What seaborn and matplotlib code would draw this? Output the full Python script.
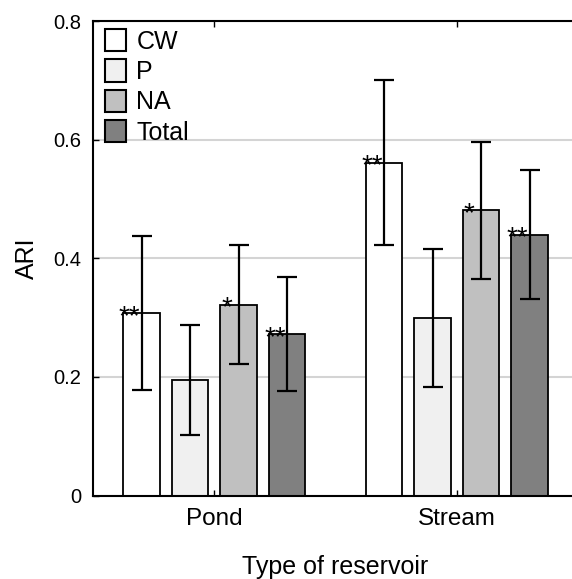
import matplotlib
matplotlib.use("Agg")
import matplotlib.pyplot as plt
from matplotlib.patches import Patch
import pandas as pd
import seaborn as sns

# Values
reservoirs = ["Pond", "Stream"]
groups = ["CW", "P", "NA", "Total"]
ari_pond = [0.307, 0.195, 0.322, 0.272]
ari_stream = [0.561, 0.300, 0.481, 0.440]
lower_pond = [0.178, 0.102, 0.222, 0.177]
upper_pond = [0.437, 0.287, 0.423, 0.368]
lower_stream = [0.422, 0.183, 0.365, 0.332]
upper_stream = [0.700, 0.416, 0.596, 0.548]
stars_pond = ["**", "", "*", "**"]
stars_stream = ["**", "", "*", "**"]
yticks = [0, 0.2, 0.4, 0.6, 0.8]
ytick_labels = ["0", "0.2", "0.4", "0.6", "0.8"]
colors = ["#ffffff", "#f0f0f0", "#c0c0c0", "#808080"]

rows = []
for res, vals, lo, up, st in [("Pond", ari_pond, lower_pond, upper_pond, stars_pond),
                              ("Stream", ari_stream, lower_stream, upper_stream, stars_stream)]:
    for g, v, l, u, s in zip(groups, vals, lo, up, st):
        rows.append({"reservoir": res, "group": g, "ari": v, "lo": l, "up": u, "star": s})
df = pd.DataFrame(rows)

sns.set_style("white")
plt.rcParams["font.family"] = ["Liberation Sans", "DejaVu Sans"]
plt.rcParams["text.color"] = "black"
plt.rcParams["axes.labelcolor"] = "black"
plt.rcParams["xtick.color"] = "black"
plt.rcParams["ytick.color"] = "black"

fig = plt.figure(figsize=(5.72, 5.79), dpi=100)
ax = fig.add_axes([0.1626, 0.1442, 0.848, 0.8195])

palette = dict(zip(groups, colors))
sns.barplot(data=df, x="reservoir", y="ari", hue="group", order=reservoirs,
            hue_order=groups, palette=palette, edgecolor="black", linewidth=1.3,
            width=0.8, gap=0.24, errorbar=None, ax=ax)

# asymmetric error bars and significance stars at the bar positions
for g, cont in zip(groups, ax.containers):
    for bar in cont:
        cx = bar.get_x() + bar.get_width() / 2
        res = reservoirs[int(round(cx))]
        r = df[(df.reservoir == res) & (df.group == g)].iloc[0]
        ax.errorbar(cx, r.ari, yerr=[[r.ari - r.lo], [r.up - r.ari]], fmt="none",
                    ecolor="black", elinewidth=1.6, capsize=7.2, capthick=1.6, zorder=5)
        if r.star:
            ax.text(bar.get_x() + 0.027, r.ari - 0.018, r.star, ha="center",
                    va="baseline", fontsize=20, color="black", zorder=6)

ax.set_xlim(-0.5, 1.5)
ax.set_ylim(0, 0.8)
ax.set_yticks(yticks)
ax.set_yticklabels(ytick_labels, fontsize=14.5)
ax.set_xticks(range(len(reservoirs)))
ax.set_xticklabels(reservoirs, fontsize=17.5)
ax.yaxis.grid(True, color="#d4d4d4", linewidth=1.5)
ax.set_axisbelow(True)

for sp in ax.spines.values():
    sp.set_visible(True)
    sp.set_color("black")
    sp.set_linewidth(1.5)

ax.tick_params(axis="y", direction="in", length=4, width=1, pad=8.5, left=True)
ax.tick_params(axis="x", direction="in", length=4, width=1, pad=9,
               bottom=True, top=True)

ax.set_xlabel("Type of reservoir", fontsize=18, labelpad=18)
ax.set_ylabel("ARI", fontsize=18, labelpad=10)

handles = [Patch(facecolor=c, edgecolor="black", linewidth=1.5) for c in colors]
leg = ax.legend(handles, groups, loc="upper left",
                bbox_to_anchor=(105 / 572, 1 - 29 / 579), bbox_transform=fig.transFigure,
                frameon=False, fontsize=18, handlelength=0.84, handleheight=1.0,
                handletextpad=0.42, labelspacing=0.22, borderpad=0, borderaxespad=0)

fig.savefig("out.png", dpi=100)
